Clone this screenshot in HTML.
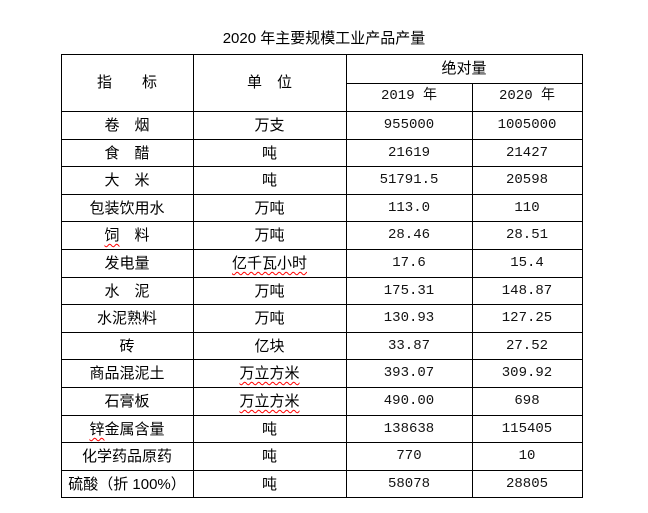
<!DOCTYPE html>
<html><head><meta charset="utf-8">
<style>
html,body{margin:0;padding:0;background:#fff;}
body{width:648px;height:513px;position:relative;overflow:hidden;font-family:"Liberation Sans","Noto Sans CJK SC",sans-serif;color:#000;}
.h{position:absolute;height:1px;background:#000;}
.v{position:absolute;width:1px;background:#000;}
.t{position:absolute;text-align:center;font-size:15px;line-height:27px;white-space:pre;}
.n{font-family:"Liberation Mono","Noto Sans CJK SC",monospace;font-size:14px;color:#111;}
.w{text-decoration:underline wavy red;text-decoration-thickness:1px;text-underline-offset:3px;}
</style></head><body>
<div class="t" style="left:0;width:648px;top:25px;font-size:15px;">2020 年主要规模工业产品产量</div>
<div id="g"></div>
<script>
var g=document.getElementById('g'),html='';
function h(x1,x2,y){html+='<div class="h" style="left:'+x1+'px;width:'+(x2-x1+1)+'px;top:'+y+'px"></div>';}
function v(x,y1,y2){html+='<div class="v" style="left:'+x+'px;top:'+y1+'px;height:'+(y2-y1+1)+'px"></div>';}
function t(x1,x2,y,s,cls){html+='<div class="t '+(cls||'')+'" style="left:'+x1+'px;width:'+(x2-x1)+'px;top:'+y+'px">'+s+'</div>';}
var L=61,C1=193,C2=346,C3=472,R=582,T=54,M=83,H=111,S=27.6;
var rows=[
['卷　烟','万支','955000','1005000'],
['食　醋','吨','21619','21427'],
['大　米','吨','51791.5','20598'],
['包装饮用水','万吨','113.0','110'],
['<span class="w">饲</span>　料','万吨','28.46','28.51'],
['发电量','<span class="w">亿千瓦小时</span>','17.6','15.4'],
['水　泥','万吨','175.31','148.87'],
['水泥熟料','万吨','130.93','127.25'],
['砖','亿块','33.87','27.52'],
['商品混泥土','<span class="w">万立方米</span>','393.07','309.92'],
['石膏板','<span class="w">万立方米</span>','490.00','698'],
['<span class="w">锌</span>金属含量','吨','138638','115405'],
['化学药品原药','吨','770','10'],
['硫酸（折 100%）','吨','58078','28805']];
var B=Math.round(H+S*rows.length);
h(L,R,T);h(C2,R,M);
for(var i=0;i<=rows.length;i++){h(L,R,Math.round(H+S*i));}
v(L,T,B);v(C1,T,B);v(C2,T,B);v(R,T,B);v(C3,M,B);
t(L,C1,69,'指　　标');t(C1,C2,69,'单　位');t(C2,R,55,'绝对量');t(C2,C3,83,'2019 年','n');t(C3,R,83,'2020 年','n');
rows.forEach(function(r,i){var y=Math.round(H+S*i)+1;
t(L,C1,y,r[0]);t(C1,C2,y,r[1]);t(C2,C3,y,r[2],'n');t(C3,R,y,r[3],'n');});
g.innerHTML=html;
</script>
</body></html>
